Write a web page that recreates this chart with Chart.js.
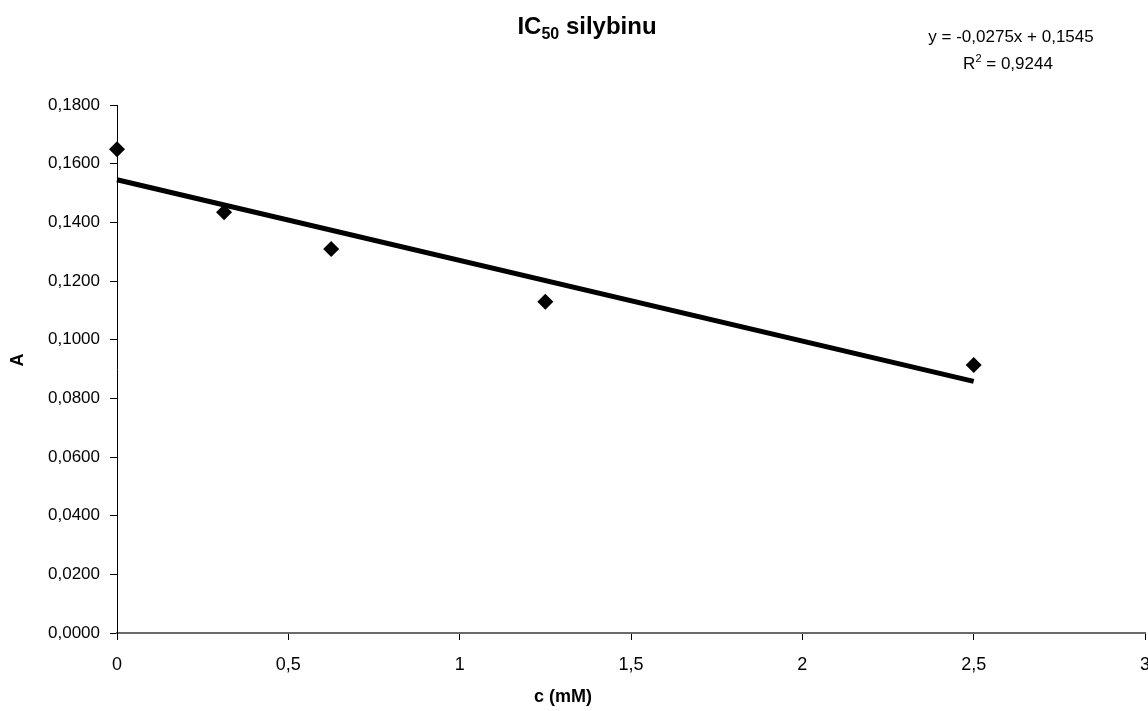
<!DOCTYPE html>
<html>
<head>
<meta charset="utf-8">
<script src="https://cdn.jsdelivr.net/npm/chart.js@4.4.0/dist/chart.umd.min.js"></script>
<style>
  html, body { margin: 0; padding: 0; background: #fff; }
  #wrap { width: 1148px; height: 711px; }
</style>
</head>
<body>
<div id="wrap"><canvas id="myChart" width="1148" height="711"></canvas></div>
<script>
// measured points (c in mM, absorbance A)
const concX = [0, 0.3125, 0.625, 1.25, 2.5];
const absY = [0.1649, 0.1434, 0.1309, 0.1129, 0.0914];

const trendX = [0, 2.5];
const trendY = [0.1545, 0.0858];

const chartTitle = 'IC';
const chartTitleSub = '50';
const chartTitleRest = ' silybinu';
const eqLine1 = 'y = -0,0275x + 0,1545';
const eqLine2 = 'R';
const eqLine2Sup = '2';
const eqLine2Rest = ' = 0,9244';
const xTitle = 'c (mM)';
const yTitle = 'A';

const font = '"Liberation Sans", Arial, sans-serif';

const points = concX.map((x, i) => ({ x: x, y: absY[i] }));
const trend = trendX.map((x, i) => ({ x: x, y: trendY[i] }));

// title, equation and axis titles
const textPlugin = {
    id: 'texts',
    afterDraw(chart) {
        const ctx = chart.ctx;
        ctx.save();
        ctx.fillStyle = '#000';
        ctx.textBaseline = 'alphabetic';

        // title with subscript
        ctx.font = 'bold 24px ' + font;
        let w1 = ctx.measureText(chartTitle).width;
        let w3 = ctx.measureText(chartTitleRest).width;
        ctx.font = 'bold 16px ' + font;
        let w2 = ctx.measureText(chartTitleSub).width;
        let x0 = 587 - (w1 + w2 + w3) / 2;
        ctx.textAlign = 'left';
        ctx.font = 'bold 24px ' + font;
        ctx.fillText(chartTitle, x0, 34);
        ctx.font = 'bold 16px ' + font;
        ctx.fillText(chartTitleSub, x0 + w1, 39);
        ctx.font = 'bold 24px ' + font;
        ctx.fillText(chartTitleRest, x0 + w1 + w2, 34);

        // regression equation
        ctx.font = '17px ' + font;
        ctx.textAlign = 'center';
        ctx.fillText(eqLine1, 1011, 42);
        let a = ctx.measureText(eqLine2).width;
        let c = ctx.measureText(eqLine2Rest).width;
        ctx.font = '11px ' + font;
        let b = ctx.measureText(eqLine2Sup).width;
        let x1 = 1008 - (a + b + c) / 2;
        ctx.textAlign = 'left';
        ctx.font = '17px ' + font;
        ctx.fillText(eqLine2, x1, 69);
        ctx.font = '11px ' + font;
        ctx.fillText(eqLine2Sup, x1 + a, 62);
        ctx.font = '17px ' + font;
        ctx.fillText(eqLine2Rest, x1 + a + b, 69);

        // axis titles
        ctx.font = 'bold 18px ' + font;
        ctx.textAlign = 'center';
        ctx.textBaseline = 'middle';
        ctx.fillText(xTitle, 563, 697);
        ctx.translate(18, 360);
        ctx.rotate(-Math.PI / 2);
        ctx.fillText(yTitle, 0, 0);
        ctx.restore();
    }
};

const config = {
    type: 'scatter',
    data: {
        datasets: [{
            label: 'A',
            data: points,
            pointStyle: 'rectRot',
            pointRadius: 8,
            backgroundColor: '#000',
            borderColor: '#000',
            borderWidth: 0,
            clip: false
        }, {
            type: 'line',
            label: 'trend',
            data: trend,
            borderColor: '#000',
            borderWidth: 5,
            pointRadius: 0,
            fill: false,
            clip: false
        }]
    },
    options: {
        responsive: false,
        animation: false,
        layout: { autoPadding: false, padding: { top: 105, left: 0, right: 3, bottom: 0 } },
        plugins: {
            legend: { display: false },
            tooltip: { enabled: false },
            title: { display: false }
        },
        scales: {
            x: {
                type: 'linear',
                min: 0,
                max: 3,
                afterFit(scale) {
                    scale.height = 78;
                    scale.paddingLeft = 0;
                    scale.paddingRight = 0;
                },
                border: { display: true, color: '#6a6a6a', width: 2 },
                grid: { drawOnChartArea: false, drawTicks: true, tickLength: 7, color: '#000' },
                ticks: {
                    stepSize: 0.5,
                    padding: 14,
                    color: '#000',
                    font: { family: font, size: 18 },
                    callback: v => String(v).replace('.', ',')
                }
            },
            y: {
                min: 0,
                max: 0.18,
                afterFit(scale) { scale.width = 117; },
                border: { display: true, color: '#000', width: 1 },
                grid: { drawOnChartArea: false, drawTicks: true, tickLength: 7, color: '#000' },
                ticks: {
                    stepSize: 0.02,
                    padding: 10,
                    color: '#000',
                    font: { family: font, size: 17 },
                    callback: v => v.toFixed(4).replace('.', ',')
                }
            }
        }
    },
    plugins: [textPlugin]
};

const myChart = new Chart(document.getElementById('myChart'), config);
</script>
</body>
</html>
